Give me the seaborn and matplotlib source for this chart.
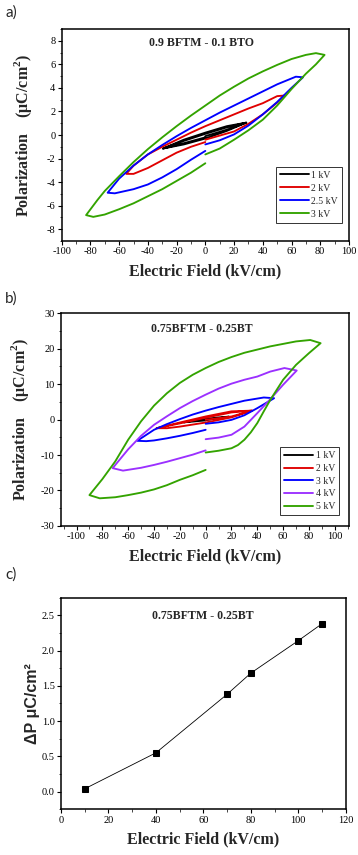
import numpy as np
import pandas as pd
import seaborn as sns
import matplotlib.pyplot as plt
from matplotlib.ticker import MultipleLocator

# ---- panel a: 0.9 BFTM - 0.1 BTO, P-E loops (path: 0 -> +Emax -> -Emax -> 0)
a_1kv_E = [0, 15, 28.5, 15, 0, -15, -29.5, -15, 0, 15, 28.5, 15, 0, -15, -29.5, -15, 0]
a_1kv_P = [-0.1, 0.45, 1.05, 0.75, 0.2, -0.4, -1.15, -0.8, -0.3, 0.35, 1.05, 0.65, 0.1, -0.5, -1.15, -0.7, -0.2]
a_2kv_E = [0, 10, 20, 30, 40, 50, 55, 50, 40, 30, 20, 10, 0, -10, -20, -30, -40, -50, -55,
           -50, -40, -30, -20, -10, 0]
a_2kv_P = [-0.4, -0.05, 0.3, 0.95, 1.75, 2.75, 3.35, 3.3, 2.7, 2.25, 1.75, 1.25, 0.75, 0.2, -0.4,
           -1.0, -1.65, -2.6, -3.3, -3.3, -2.8, -2.15, -1.5, -1.0, -0.6]
a_25kv_E = [0, 10, 20, 30, 40, 50, 60, 68, 63, 50, 40, 30, 20, 10, 0, -10, -20, -30, -40, -50,
            -60, -68, -63, -50, -40, -30, -20, -10, 0]
a_25kv_P = [-0.8, -0.45, 0.05, 0.8, 1.75, 2.8, 4.0, 4.9, 4.95, 4.3, 3.7, 3.1, 2.5, 1.9, 1.25, 0.6,
            -0.1, -0.85, -1.65, -2.6, -3.7, -4.9, -4.95, -4.6, -4.2, -3.6, -2.9, -2.1, -1.35]
a_3kv_E = [0, 5, 10, 20, 30, 40, 50, 60, 70, 77, 83, 77, 70, 60, 50, 40, 30, 20, 10, 0, -10, -20,
           -30, -40, -50, -60, -70, -75, -83, -78, -70, -60, -50, -40, -30, -20, -10, 0]
a_3kv_P = [-1.65, -1.4, -1.15, -0.4, 0.4, 1.3, 2.5, 3.9, 5.2, 6.0, 6.8, 6.95, 6.8, 6.45, 5.95,
           5.4, 4.8, 4.1, 3.35, 2.5, 1.65, 0.75, -0.2, -1.2, -2.3, -3.5, -4.75, -5.5, -6.8, -6.95,
           -6.75, -6.3, -5.8, -5.2, -4.6, -3.9, -3.2, -2.4]
a_labels = ["1 kV", "2 kV", "2.5 kV", "3 kV"]

# ---- panel b: 0.75BFTM - 0.25BT
b_1kv_E = [0, 9, 18, 9, 0, -9, -17, -9, 0]
b_1kv_P = [-0.2, 0.3, 0.8, 0.55, 0.15, -0.3, -0.8, -0.55, -0.25]
b_2kv_E = [0, 20, 36, 20, 0, -20, -38, -30, -20, 0, 20, 36, 20, 0, -20, -38]
b_2kv_P = [-0.1, 0.85, 2.5, 2.3, 0.85, -0.85, -2.45, -2.45, -2.0, -0.85, 0.6, 2.5, 2.0, 0.5, -1.1, -2.45]
b_3kv_E = [0, 10, 20, 30, 40, 53, 45, 30, 20, 10, 0, -10, -20, -30, -40, -53, -46, -40, -30,
           -20, -10, 0]
b_3kv_P = [-1.2, -0.8, -0.1, 1.2, 3.2, 6.0, 6.2, 5.3, 4.4, 3.5, 2.5, 1.4, 0.1, -1.3, -2.9, -6.0,
           -6.1, -5.9, -5.3, -4.6, -3.8, -2.9]
b_4kv_E = [0, 10, 20, 30, 40, 50, 60, 70.5, 61, 50, 40, 30, 20, 10, 0, -10, -20, -30, -40, -50,
           -60, -72, -64, -50, -40, -30, -20, -10, 0]
b_4kv_P = [-5.55, -5.1, -4.3, -2.0, 1.8, 5.7, 9.8, 13.8, 14.5, 13.5, 12.1, 11.2, 10.1, 8.7, 7.0,
           5.2, 3.2, 0.9, -1.5, -4.6, -8.4, -13.7, -14.4, -13.6, -12.8, -11.9, -10.9, -9.9, -8.7]
b_5kv_E = [0, 10, 20, 25, 30, 35, 40, 45, 50, 60, 70, 80, 89, 81, 70, 60, 50, 40, 30, 20, 10, 0,
           -10, -20, -30, -40, -50, -60, -70, -80, -90, -82, -70, -60, -50, -40, -30, -20, -10, 0]
b_5kv_P = [-9.3, -8.8, -8.1, -7.2, -5.7, -3.6, -1.0, 2.3, 5.5, 11.2, 15.4, 18.7, 21.5, 22.4,
           22.0, 21.3, 20.6, 19.7, 18.8, 17.6, 16.2, 14.5, 12.6, 10.3, 7.4, 3.9, -0.5, -5.7,
           -11.8, -16.8, -21.3, -22.2, -21.9, -21.3, -20.6, -19.7, -18.5, -17.0, -15.7, -14.2]
b_labels = ["1 kV", "2 kV", "3 kV", "4 kV", "5 kV"]

# ---- panel c: delta P vs field
c_field = [10, 40, 70, 80, 100, 110]
c_dP = [0.04, 0.55, 1.38, 1.68, 2.14, 2.38]

colors = {"1 kV": "black", "2 kV": "#e00000", "2.5 kV": "#0000ff", "3 kV": "#33a300"}
colors_b = {"1 kV": "black", "2 kV": "#e00000", "3 kV": "#0000ff",
            "4 kV": "#9b30ff", "5 kV": "#33a300"}


def loop_frame(Es, Ps, labels):
    frames = []
    for E, P, lab in zip(Es, Ps, labels):
        frames.append(pd.DataFrame({"E": E, "P": P, "V": lab}))
    return pd.concat(frames, ignore_index=True)


df_a = loop_frame([a_1kv_E, a_2kv_E, a_25kv_E, a_3kv_E],
                  [a_1kv_P, a_2kv_P, a_25kv_P, a_3kv_P], a_labels)
df_b = loop_frame([b_1kv_E, b_2kv_E, b_3kv_E, b_4kv_E, b_5kv_E],
                  [b_1kv_P, b_2kv_P, b_3kv_P, b_4kv_P, b_5kv_P], b_labels)
df_c = pd.DataFrame({"E": c_field, "dP": c_dP})

sns.set_theme(style="ticks")
plt.rcParams['font.family'] = ['Liberation Serif', 'DejaVu Serif']
plt.rcParams['axes.unicode_minus'] = False
plt.rcParams['mathtext.fontset'] = 'custom'
plt.rcParams['mathtext.rm'] = 'Liberation Serif'
plt.rcParams['mathtext.bf'] = 'Liberation Serif:bold'

fig = plt.figure(figsize=(3.58, 8.55), dpi=100)
ax_a = fig.add_axes([0.1723, 0.7181, 0.8025, 0.248])
ax_b = fig.add_axes([0.1704, 0.3848, 0.8045, 0.2491])
ax_c = fig.add_axes([0.1704, 0.0535, 0.7953, 0.2475])

LABEL_FS = 11.5
TITLE_FS = 8.6
POL_LABEL = r"Polarization    (μC/cm$^{\mathbf{2}}$)"


def style_axis(ax):
    for s in ax.spines.values():
        s.set_linewidth(1.1)
        s.set_color("black")
    ax.tick_params(which="major", direction="out", length=3, width=0.8,
                   labelsize=7.5, pad=1.5, colors="black")
    ax.tick_params(which="minor", direction="out", length=1.8, width=0.6)
    ax.tick_params(top=False, right=False)


def add_legend(ax, anchor, spacing):
    leg = ax.legend(loc="lower right", bbox_to_anchor=anchor, fontsize=7,
                    frameon=True, fancybox=False, edgecolor="black", handlelength=3,
                    handletextpad=0.25, borderpad=0.4, labelspacing=spacing,
                    borderaxespad=0)
    leg.get_frame().set_linewidth(0.7)
    return leg


# panel a
sns.lineplot(data=df_a, x="E", y="P", hue="V", palette=colors, sort=False,
             estimator=None, units="V", lw=1.35, ax=ax_a)
ax_a.set_xlim(-100, 100)
ax_a.set_ylim(-9, 9)
ax_a.xaxis.set_major_locator(MultipleLocator(20))
ax_a.xaxis.set_minor_locator(MultipleLocator(10))
ax_a.yaxis.set_major_locator(MultipleLocator(2))
ax_a.yaxis.set_minor_locator(MultipleLocator(1))
style_axis(ax_a)
ax_a.set_xlabel("Electric Field (kV/cm)", fontsize=LABEL_FS, fontweight="bold", labelpad=5)
ax_a.set_ylabel(POL_LABEL, fontsize=LABEL_FS, fontweight="bold", labelpad=9)
ax_a.text(0.487, 0.935, "0.9 BFTM - 0.1 BTO", transform=ax_a.transAxes,
          ha="center", va="center", fontsize=TITLE_FS, fontweight="bold")
add_legend(ax_a, (0.975, 0.086), 0.42)

# panel b
sns.lineplot(data=df_b, x="E", y="P", hue="V", palette=colors_b, sort=False,
             estimator=None, units="V", lw=1.35, ax=ax_b)
ax_b.set_xlim(-112, 111)
ax_b.set_ylim(-30, 30)
ax_b.xaxis.set_major_locator(MultipleLocator(20))
ax_b.xaxis.set_minor_locator(MultipleLocator(10))
ax_b.yaxis.set_major_locator(MultipleLocator(10))
ax_b.yaxis.set_minor_locator(MultipleLocator(5))
style_axis(ax_b)
ax_b.set_xlabel("Electric Field (kV/cm)", fontsize=LABEL_FS, fontweight="bold", labelpad=5)
ax_b.set_ylabel(POL_LABEL, fontsize=LABEL_FS, fontweight="bold", labelpad=7)
ax_b.text(0.49, 0.923, "0.75BFTM - 0.25BT", transform=ax_b.transAxes,
          ha="center", va="center", fontsize=TITLE_FS, fontweight="bold")
add_legend(ax_b, (0.965, 0.052), 0.38)

# panel c
sns.lineplot(data=df_c, x="E", y="dP", color="black", lw=0.6, marker="s",
             markersize=4.2, markeredgecolor="black", ax=ax_c)
ax_c.set_xlim(0, 120)
ax_c.set_ylim(-0.25, 2.75)
ax_c.xaxis.set_major_locator(MultipleLocator(20))
ax_c.xaxis.set_minor_locator(MultipleLocator(10))
ax_c.yaxis.set_major_locator(MultipleLocator(0.5))
ax_c.yaxis.set_minor_locator(MultipleLocator(0.25))
ax_c.yaxis.set_major_formatter(plt.FormatStrFormatter("%.1f"))
style_axis(ax_c)
ax_c.set_xlabel("Electric Field (kV/cm)", fontsize=LABEL_FS, fontweight="bold", labelpad=5)
ax_c.set_ylabel("ΔP μC/cm²", fontsize=LABEL_FS, fontweight="bold",
                family=["Liberation Sans", "DejaVu Sans"], labelpad=1)
ax_c.text(0.497, 0.913, "0.75BFTM - 0.25BT", transform=ax_c.transAxes,
          ha="center", va="center", fontsize=TITLE_FS, fontweight="bold")

# panel letters
for lab, y in [("a)", 0.994), ("b)", 0.659), ("c)", 0.336)]:
    fig.text(0.015, y, lab, fontsize=11, family=["Lato", "DejaVu Sans"], va="top")

fig.savefig("out.png", dpi=100)
